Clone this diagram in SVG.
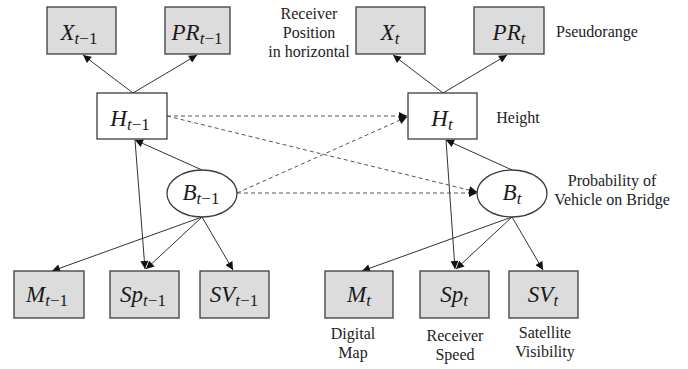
<svg xmlns="http://www.w3.org/2000/svg" width="688" height="369" viewBox="0 0 688 369">
  <style>
    .obs { fill: #dcdcdc; stroke: #3c3c3c; stroke-width: 1.3; }
    .hid { fill: #ffffff; stroke: #3c3c3c; stroke-width: 1.3; }
    .sym { font-family: 'Liberation Serif', serif; font-size: 23px; font-style: italic; fill: #1a1a1a; }
    .sub { font-size: 17px; }
    .up { font-style: normal; }
    .note { font-family: 'Liberation Serif', serif; font-size: 16px; fill: #222; text-anchor: middle; }
    .edge { stroke: #333; stroke-width: 1; fill: none; marker-end: url(#tip); }
    .temporal { stroke: #555; stroke-width: 1; fill: none; stroke-dasharray: 4 3; marker-end: url(#tip); }
  </style>
  <defs>
    <marker id="tip" viewBox="0 0 10 10" refX="10" refY="5" markerWidth="9" markerHeight="8" markerUnits="userSpaceOnUse" orient="auto">
      <path d="M0,0 L10,5 L0,10 Z" fill="#111"/>
    </marker>
  </defs>
  <rect width="688" height="369" fill="#ffffff"/>

  <!-- connectors -->
  <g id="connectors">
    <!-- slice t-1 -->
    <line class="edge" x1="133" y1="93" x2="83" y2="55"/>
    <line class="edge" x1="133" y1="93" x2="197" y2="55"/>
    <line class="edge" x1="202" y1="170" x2="135" y2="140"/>
    <line class="edge" x1="135" y1="140" x2="145" y2="269"/>
    <line class="edge" x1="202" y1="217" x2="52" y2="271"/>
    <line class="edge" x1="202" y1="217" x2="146" y2="269"/>
    <line class="edge" x1="202" y1="217" x2="233" y2="270"/>
    <!-- slice t -->
    <line class="edge" x1="443" y1="93" x2="393" y2="55"/>
    <line class="edge" x1="443" y1="93" x2="507" y2="55"/>
    <line class="edge" x1="512" y1="170" x2="446" y2="140"/>
    <line class="edge" x1="446" y1="140" x2="455" y2="269"/>
    <line class="edge" x1="512" y1="217" x2="362" y2="271"/>
    <line class="edge" x1="512" y1="217" x2="456" y2="269"/>
    <line class="edge" x1="512" y1="217" x2="543" y2="270"/>
    <!-- transitions -->
    <line class="temporal" x1="167" y1="116" x2="407" y2="116"/>
    <line class="temporal" x1="167" y1="116" x2="477" y2="192"/>
    <line class="temporal" x1="237" y1="193" x2="407" y2="117"/>
    <line class="temporal" x1="237" y1="193" x2="477" y2="193"/>
  </g>

  <!-- slice t-1 nodes -->
  <g id="X_prev">
    <rect class="obs" x="47" y="7" width="69" height="47"/>
    <text class="sym" x="79" y="40" text-anchor="middle">X<tspan class="sub" dy="4">t<tspan class="up">−1</tspan></tspan></text>
  </g>
  <g id="PR_prev">
    <rect class="obs" x="165" y="7" width="65" height="47"/>
    <text class="sym" x="197" y="40" text-anchor="middle">PR<tspan class="sub" dy="4">t<tspan class="up">−1</tspan></tspan></text>
  </g>
  <g id="H_prev">
    <rect class="hid" x="97" y="93" width="70" height="46"/>
    <text class="sym" x="130" y="126" text-anchor="middle">H<tspan class="sub" dy="4">t<tspan class="up">−1</tspan></tspan></text>
  </g>
  <g id="B_prev">
    <ellipse class="hid" cx="202" cy="193.5" rx="35" ry="23.5"/>
    <text class="sym" x="201" y="200" text-anchor="middle">B<tspan class="sub" dy="4">t<tspan class="up">−1</tspan></tspan></text>
  </g>
  <g id="M_prev">
    <rect class="obs" x="14" y="271" width="70" height="47"/>
    <text class="sym" x="47" y="302" text-anchor="middle">M<tspan class="sub" dy="4">t<tspan class="up">−1</tspan></tspan></text>
  </g>
  <g id="Sp_prev">
    <rect class="obs" x="110" y="271" width="69" height="47"/>
    <text class="sym" x="143" y="302" text-anchor="middle">Sp<tspan class="sub" dy="4">t<tspan class="up">−1</tspan></tspan></text>
  </g>
  <g id="SV_prev">
    <rect class="obs" x="200" y="271" width="69" height="47"/>
    <text class="sym" x="234" y="302" text-anchor="middle">SV<tspan class="sub" dy="4">t<tspan class="up">−1</tspan></tspan></text>
  </g>

  <!-- slice t nodes -->
  <g id="X_t">
    <rect class="obs" x="356" y="7" width="69" height="47"/>
    <text class="sym" x="390" y="40" text-anchor="middle">X<tspan class="sub" dy="4">t</tspan></text>
  </g>
  <g id="PR_t">
    <rect class="obs" x="474" y="7" width="70" height="47"/>
    <text class="sym" x="509" y="40" text-anchor="middle">PR<tspan class="sub" dy="4">t</tspan></text>
  </g>
  <g id="H_t">
    <rect class="hid" x="408" y="93" width="69" height="46"/>
    <text class="sym" x="442" y="126" text-anchor="middle">H<tspan class="sub" dy="4">t</tspan></text>
  </g>
  <g id="B_t">
    <ellipse class="hid" cx="512" cy="193.5" rx="35" ry="23.5"/>
    <text class="sym" x="512" y="200" text-anchor="middle">B<tspan class="sub" dy="4">t</tspan></text>
  </g>
  <g id="M_t">
    <rect class="obs" x="325" y="271" width="68" height="47"/>
    <text class="sym" x="359" y="302" text-anchor="middle">M<tspan class="sub" dy="4">t</tspan></text>
  </g>
  <g id="Sp_t">
    <rect class="obs" x="420" y="271" width="69" height="47"/>
    <text class="sym" x="454" y="302" text-anchor="middle">Sp<tspan class="sub" dy="4">t</tspan></text>
  </g>
  <g id="SV_t">
    <rect class="obs" x="509" y="271" width="69" height="47"/>
    <text class="sym" x="543" y="302" text-anchor="middle">SV<tspan class="sub" dy="4">t</tspan></text>
  </g>

  <!-- descriptive labels -->
  <g id="labels">
    <text class="note" x="309" y="19">Receiver</text>
    <text class="note" x="309" y="38">Position</text>
    <text class="note" x="309" y="57">in horizontal</text>
    <text class="note" x="597" y="37">Pseudorange</text>
    <text class="note" x="518" y="123">Height</text>
    <text class="note" x="612" y="186">Probability of</text>
    <text class="note" x="612" y="205">Vehicle on Bridge</text>
    <text class="note" x="353" y="339">Digital</text>
    <text class="note" x="353" y="358">Map</text>
    <text class="note" x="455" y="341">Receiver</text>
    <text class="note" x="455" y="360">Speed</text>
    <text class="note" x="545" y="338">Satellite</text>
    <text class="note" x="545" y="357">Visibility</text>
  </g>
</svg>
